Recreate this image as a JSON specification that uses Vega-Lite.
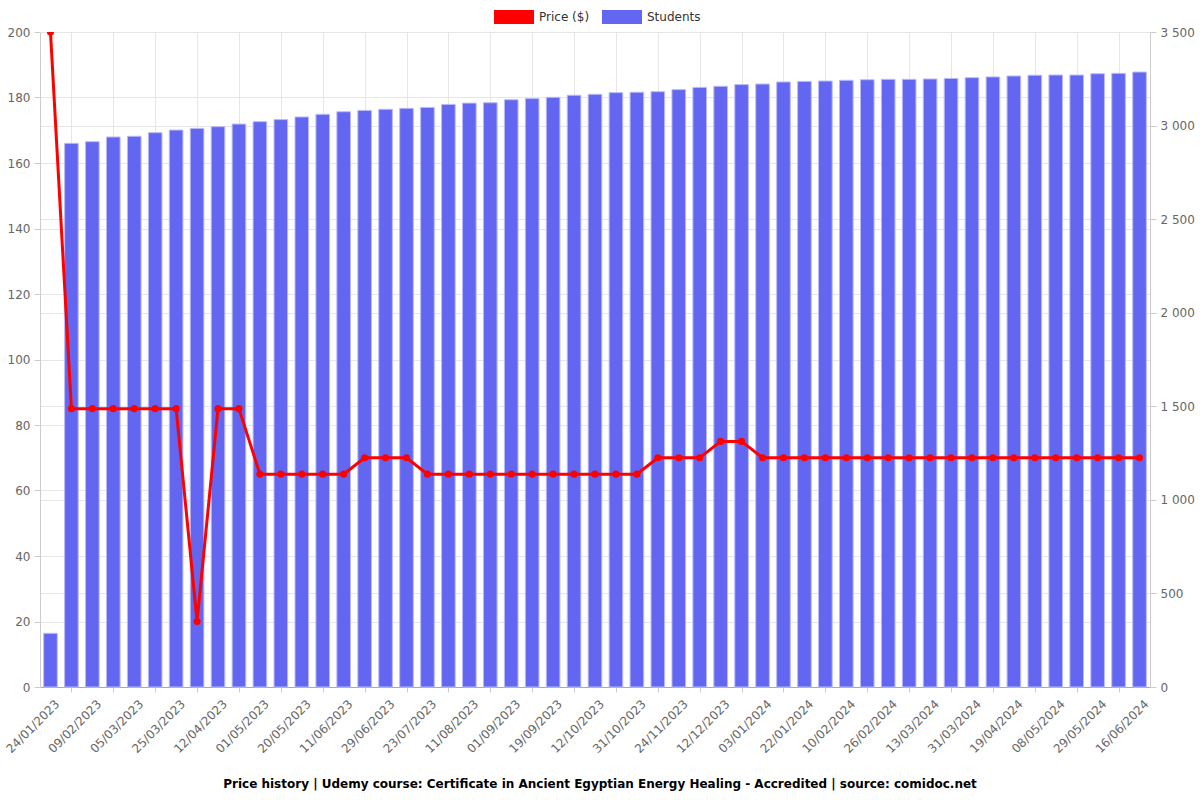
{
  "$schema": "https://vega.github.io/schema/vega-lite/v6.json",
  "width": 1110,
  "height": 655,
  "autosize": "none",
  "padding": {"left": 40, "top": 32, "right": 50, "bottom": 113},
  "background": "#ffffff",
  "config": {
    "font": "DejaVu Sans",
    "view": {"stroke": null},
    "axis": {"labelFont": "DejaVu Sans", "labelFontSize": 12, "labelColor": "#666666", "gridColor": "#e6e6e6", "tickColor": "#cccccc", "domainColor": "#cccccc", "titleFontSize": 12}
  },
  "title": {
    "text": "Price history | Udemy course: Certificate in Ancient Egyptian Energy Healing - Accredited | source: comidoc.net",
    "orient": "bottom",
    "anchor": "middle",
    "font": "DejaVu Sans",
    "fontSize": 12,
    "fontWeight": "bold",
    "color": "#000000",
    "dx": 5,
    "offset": 24
  },
  "data": {
    "values": [
      {"date": "24/01/2023", "price": 200, "students": 287},
      {"date": "01/02/2023", "price": 85, "students": 2905},
      {"date": "09/02/2023", "price": 85, "students": 2914},
      {"date": "20/02/2023", "price": 85, "students": 2939},
      {"date": "05/03/2023", "price": 85, "students": 2943},
      {"date": "15/03/2023", "price": 85, "students": 2962},
      {"date": "25/03/2023", "price": 85, "students": 2976},
      {"date": "03/04/2023", "price": 20, "students": 2985},
      {"date": "12/04/2023", "price": 85, "students": 2994},
      {"date": "21/04/2023", "price": 85, "students": 3008},
      {"date": "01/05/2023", "price": 65, "students": 3021},
      {"date": "10/05/2023", "price": 65, "students": 3032},
      {"date": "20/05/2023", "price": 65, "students": 3046},
      {"date": "30/05/2023", "price": 65, "students": 3060},
      {"date": "11/06/2023", "price": 65, "students": 3074},
      {"date": "20/06/2023", "price": 70, "students": 3081},
      {"date": "29/06/2023", "price": 70, "students": 3087},
      {"date": "10/07/2023", "price": 70, "students": 3092},
      {"date": "23/07/2023", "price": 65, "students": 3097},
      {"date": "01/08/2023", "price": 65, "students": 3113},
      {"date": "11/08/2023", "price": 65, "students": 3120},
      {"date": "21/08/2023", "price": 65, "students": 3122},
      {"date": "01/09/2023", "price": 65, "students": 3138},
      {"date": "10/09/2023", "price": 65, "students": 3144},
      {"date": "19/09/2023", "price": 65, "students": 3151},
      {"date": "30/09/2023", "price": 65, "students": 3162},
      {"date": "12/10/2023", "price": 65, "students": 3167},
      {"date": "21/10/2023", "price": 65, "students": 3176},
      {"date": "31/10/2023", "price": 65, "students": 3178},
      {"date": "12/11/2023", "price": 70, "students": 3181},
      {"date": "24/11/2023", "price": 70, "students": 3192},
      {"date": "03/12/2023", "price": 70, "students": 3204},
      {"date": "12/12/2023", "price": 75, "students": 3210},
      {"date": "22/12/2023", "price": 75, "students": 3219},
      {"date": "03/01/2024", "price": 70, "students": 3222},
      {"date": "12/01/2024", "price": 70, "students": 3233},
      {"date": "22/01/2024", "price": 70, "students": 3236},
      {"date": "01/02/2024", "price": 70, "students": 3238},
      {"date": "10/02/2024", "price": 70, "students": 3242},
      {"date": "18/02/2024", "price": 70, "students": 3245},
      {"date": "26/02/2024", "price": 70, "students": 3247},
      {"date": "05/03/2024", "price": 70, "students": 3247},
      {"date": "13/03/2024", "price": 70, "students": 3249},
      {"date": "22/03/2024", "price": 70, "students": 3252},
      {"date": "31/03/2024", "price": 70, "students": 3256},
      {"date": "10/04/2024", "price": 70, "students": 3260},
      {"date": "19/04/2024", "price": 70, "students": 3265},
      {"date": "28/04/2024", "price": 70, "students": 3269},
      {"date": "08/05/2024", "price": 70, "students": 3270},
      {"date": "18/05/2024", "price": 70, "students": 3270},
      {"date": "29/05/2024", "price": 70, "students": 3277},
      {"date": "07/06/2024", "price": 70, "students": 3279},
      {"date": "16/06/2024", "price": 70, "students": 3286}
    ]
  },
  "encoding": {
    "x": {
      "field": "date",
      "type": "ordinal",
      "sort": null,
      "scale": {"paddingInner": 0.35, "paddingOuter": 0.175},
      "axis": {
        "title": null,
        "values": ["24/01/2023","09/02/2023","05/03/2023","25/03/2023","12/04/2023","01/05/2023","20/05/2023","11/06/2023","29/06/2023","23/07/2023","11/08/2023","01/09/2023","19/09/2023","12/10/2023","31/10/2023","24/11/2023","12/12/2023","03/01/2024","22/01/2024","10/02/2024","26/02/2024","13/03/2024","31/03/2024","19/04/2024","08/05/2024","29/05/2024","16/06/2024"],
        "labelAngle": -45,
        "labelFontSize": 12,
        "tickOffset": 20.94,
        "labelOffset": -18,
        "tickSize": 5,
        "grid": true,
        "gridOpacity": {"condition": {"test": "datum.value === '16/06/2024'", "value": 0}, "value": 1},
        "tickOpacity": {"condition": {"test": "datum.value === '16/06/2024'", "value": 0}, "value": 1},
        "domainColor": "#aaaaaa",
        "labelPadding": 6
      }
    }
  },
  "layer": [
    {
      "mark": {"type": "bar", "stroke": "#b9bbf8", "strokeWidth": 1},
      "encoding": {
        "y": {
          "field": "students",
          "type": "quantitative",
          "scale": {"domain": [0, 3500], "nice": false},
          "axis": {
            "orient": "right",
            "title": null,
            "values": [0, 500, 1000, 1500, 2000, 2500, 3000, 3500],
            "labelExpr": "replace(format(datum.value, ','), ',', ' ')",
            "tickSize": 6,
            "labelPadding": 4,
            "grid": true
          }
        },
        "color": {
          "datum": "Students",
          "type": "nominal",
          "scale": {"domain": ["Price ($)", "Students"], "range": ["#ff0000", "#6366f1"]},
          "legend": {
            "title": null,
            "orient": "none",
            "direction": "horizontal",
            "legendX": 454,
            "legendY": -35,
            "symbolType": "M-1,-0.35H1V0.35H-1Z",
            "symbolSize": 1600,
            "symbolStrokeWidth": 0,
            "labelFontSize": 12,
            "labelColor": "#333333",
            "labelOffset": 5,
            "columnPadding": 12
          }
        }
      }
    },
    {
      "mark": {"type": "line", "strokeWidth": 3, "clip": true},
      "encoding": {
        "y": {
          "field": "price",
          "type": "quantitative",
          "scale": {"domain": [0, 200], "nice": false},
          "axis": {
            "orient": "left",
            "title": null,
            "values": [0, 20, 40, 60, 80, 100, 120, 140, 160, 180, 200],
            "tickSize": 6,
            "labelPadding": 4,
            "grid": true
          }
        },
        "color": {"datum": "Price ($)", "type": "nominal", "legend": null}
      }
    },
    {
      "mark": {"type": "point", "filled": true, "size": 50, "opacity": 1, "clip": true},
      "encoding": {
        "y": {"field": "price", "type": "quantitative", "scale": {"domain": [0, 200], "nice": false}, "axis": null},
        "color": {"datum": "Price ($)", "type": "nominal", "legend": null}
      }
    }
  ],
  "resolve": {"scale": {"y": "independent"}}
}
